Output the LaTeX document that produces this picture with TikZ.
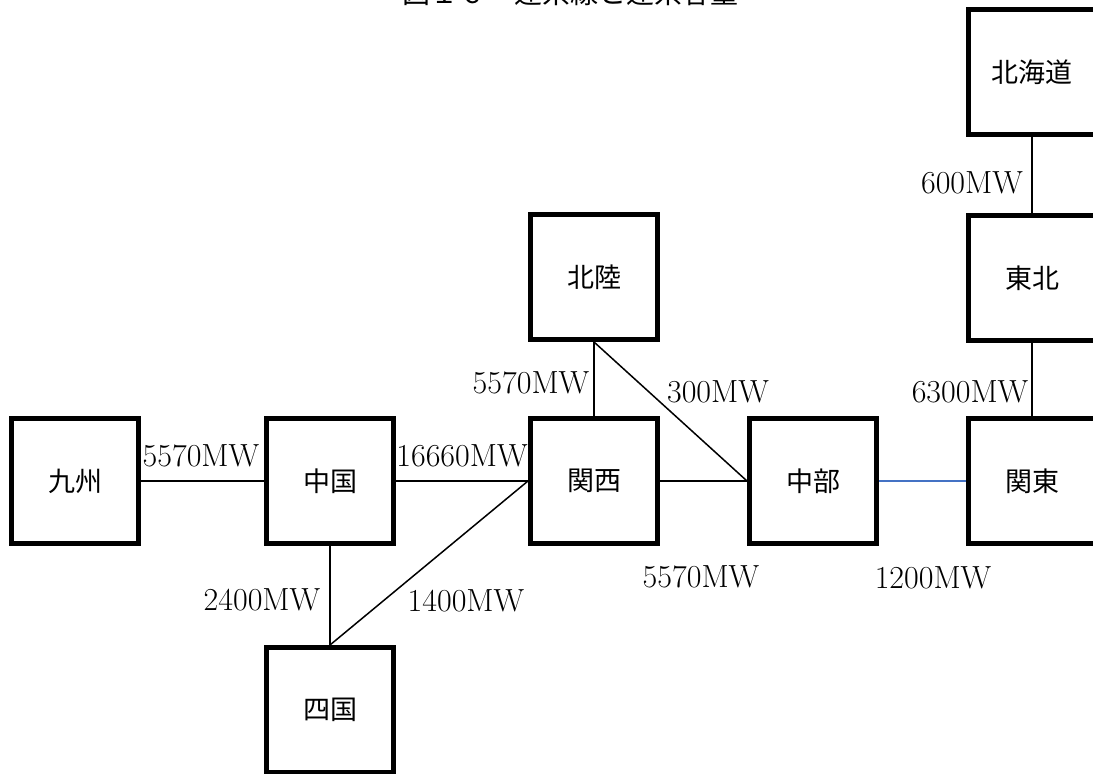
\documentclass[tikz,border=0pt]{standalone}
\usepackage{fontspec}
\newfontfamily\jp{Noto Sans CJK JP}
\usepackage{tikz}
\usepackage{xcolor}
\definecolor{linkblue}{RGB}{68,114,196}

\begin{document}
\begin{tikzpicture}[
    x=0.5pt, y=-0.5pt,
    area/.style={draw, line width=2.5pt, minimum width=63.5pt, minimum height=62.5pt,
                 inner sep=0pt, font=\jp\fontsize{13.5}{16}\selectfont},
    link/.style={line width=0.75pt},
    mwlabel/.style={font=\fontsize{16}{19}\selectfont, inner sep=0pt}
]
    \useasboundingbox (0,0) rectangle (1093,774);

    % Title (cut off at the top)
    \node[anchor=base, font=\jp\fontsize{14}{16}\selectfont, inner sep=0pt] (title) at (570,4) {図１６　連系線と連系容量};

    % Regions
    \node[area] (kyushu)   at (75,481)   {九州};
    \node[area] (chugoku)  at (330,481)  {中国};
    \node[area] (shikoku)  at (330,710)  {四国};
    \node[area] (kansai)   at (594,481)  {関西};
    \node[area] (hokuriku) at (594,277)  {北陸};
    \node[area] (chubu)    at (813,481)  {中部};
    \node[area] (kanto)    at (1032,481) {関東};
    \node[area] (tohoku)   at (1032,278) {東北};
    \node[area] (hokkaido) at (1032,72)  {北海道};

    % Links
    \draw[link] (kyushu) -- (chugoku);
    \draw[link] (chugoku) -- (kansai);
    \draw[link] (chugoku) -- (shikoku);
    \draw[link] (shikoku.north) -- (kansai.west);
    \draw[link] (kansai) -- (hokuriku);
    \draw[link] (hokuriku.south) -- (chubu.west);
    \draw[link] (kansai) -- (chubu);
    \draw[link, linkblue] (chubu) -- (kanto);
    \draw[link] (kanto) -- (tohoku);
    \draw[link] (tohoku) -- (hokkaido);

    % Capacities
    \node[mwlabel] (c1)  at (201,456) {5570MW};
    \node[mwlabel] (c2)  at (462,456) {16660MW};
    \node[mwlabel] (c3)  at (262,600) {2400MW};
    \node[mwlabel] (c4)  at (466,601) {1400MW};
    \node[mwlabel] (c5)  at (531,383) {5570MW};
    \node[mwlabel] (c6)  at (718,392) {300MW};
    \node[mwlabel] (c7)  at (701,577) {5570MW};
    \node[mwlabel] (c8)  at (933,578) {1200MW};
    \node[mwlabel] (c9)  at (970,392) {6300MW};
    \node[mwlabel] (c10) at (972,183) {600MW};
\end{tikzpicture}
\end{document}
